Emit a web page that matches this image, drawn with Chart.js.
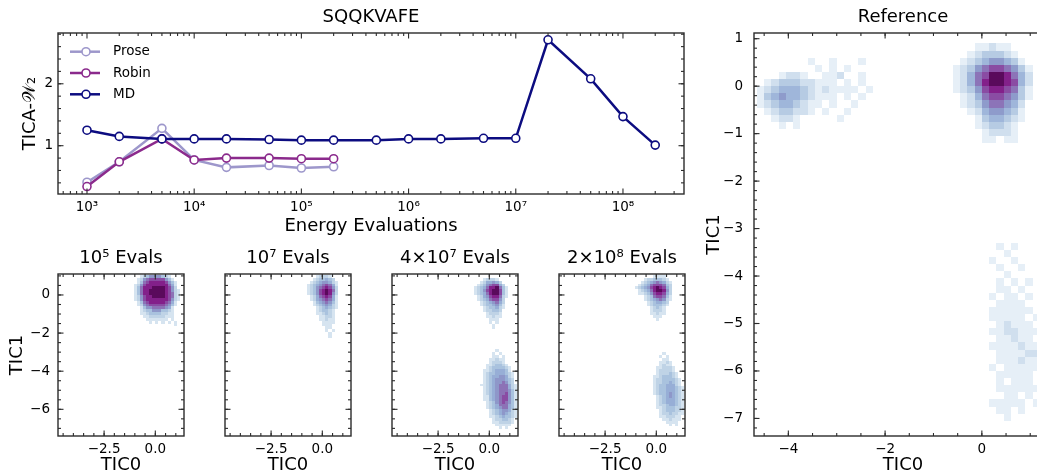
<!DOCTYPE html>
<html>
<head>
<meta charset="utf-8">
<script src="https://cdn.jsdelivr.net/npm/chart.js@4.4.1/dist/chart.umd.min.js"></script>
<style>
  html, body { margin: 0; padding: 0; background: #fff; overflow: hidden; }
  body { width: 1037px; height: 476px; position: relative; }
  .panel { position: absolute; }
</style>
</head>
<body>
<div class="panel" style="left:0;top:0;width:700px;height:240px"><canvas id="w2"></canvas></div>
<div class="panel" style="left:0;top:240px;width:186px;height:236px"><canvas id="p1"></canvas></div>
<div class="panel" style="left:223px;top:240px;width:130px;height:236px"><canvas id="p2"></canvas></div>
<div class="panel" style="left:390px;top:240px;width:130px;height:236px"><canvas id="p3"></canvas></div>
<div class="panel" style="left:557px;top:240px;width:130px;height:236px"><canvas id="p4"></canvas></div>
<div class="panel" style="left:700px;top:0;width:360px;height:476px"><canvas id="ref"></canvas></div>
<script>
// ---- line chart data (TICA-W2 vs energy evaluations) ----
const evalsMD = [1e3, 2e3, 5e3, 1e4, 2e4, 5e4, 1e5, 2e5, 5e5, 1e6, 2e6, 5e6, 1e7, 2e7, 5e7, 1e8, 2e8];
const mdW2 = [1.25, 1.15, 1.11, 1.11, 1.11, 1.10, 1.09, 1.09, 1.09, 1.11, 1.11, 1.12, 1.12, 2.71, 2.08, 1.47, 1.01];
const evalsModels = [1e3, 2e3, 5e3, 1e4, 2e4, 5e4, 1e5, 2e5];
const proseW2 = [0.41, 0.74, 1.28, 0.77, 0.65, 0.68, 0.64, 0.66];
const robinW2 = [0.34, 0.74, 1.11, 0.77, 0.80, 0.80, 0.79, 0.79];
const seriesNames = ['Prose', 'Robin', 'MD'];
const seriesColors = ['#9d97cb', '#8b2a8c', '#0c0c80'];
const logTicks = [1e3, 1e4, 1e5, 1e6, 1e7, 1e8];
const w2Ticks = [1, 2];

// ---- histogram panels ----
const panelTitles = ['10⁵ Evals', '10⁷ Evals', '4×10⁷ Evals', '2×10⁸ Evals'];
const ticXTicks = [-2.5, 0];
const ticYTicks = [-6, -4, -2, 0];
const refXTicks = [-4, -2, 0];
const refYTicks = [-7, -6, -5, -4, -3, -2, -1, 0, 1];

// density levels 0-9 per 0.15 x 0.15 cell, rows from top edge y0 downwards, columns from x0
const cellStep = 0.15;
const evals1e5Main = { x0: -1.05, y0: 1.05, rows: [
  '0012355553210000',
  '0125677777531000',
  '0136788888753100',
  '1257888888864100',
  '1368889999875200',
  '1368899999875210',
  '1368899999876210',
  '1257889999876210',
  '1257888888875210',
  '0136788888764100',
  '0125677777653100',
  '0013556666541000',
  '0012335553321000',
  '0011233332211000',
  '0001122222111000',
  '0000111111101000',
  '0000010101010100',
  '0000000000000100'] };
const evals1e7Main = { x0: -1.2, y0: 1.05, rows: [
  '000000122210000',
  '000001233432000',
  '000012345542100',
  '000123456764100',
  '000123567875200',
  '000123578986200',
  '000123578985200',
  '000012467874100',
  '000012456764100',
  '000001345653100',
  '000001234542100',
  '000000123432100',
  '000000123321000',
  '000000112321000',
  '000000011221000',
  '000000011211000',
  '000000001111000',
  '000000001110000',
  '000000000110000',
  '000000000101000',
  '000000000010000',
  '000000000010000'] };
const evals4e7Main = { x0: -0.9, y0: 0.9, rows: [
  '000012221000',
  '000124454200',
  '001235677420',
  '012346889631',
  '012357899731',
  '012346899731',
  '001245788621',
  '001234677520',
  '000123456420',
  '000123345310',
  '000012334210',
  '000012233200',
  '000001222100',
  '000001121100',
  '000000111000',
  '000000101000',
  '000000010000',
  '000000010000'] };
const evals4e7Low = { x0: -0.45, y0: -2.85, rows: [
  '000001000000',
  '000010100000',
  '000011010000',
  '000112110000',
  '000122210000',
  '001123321000',
  '001233332100',
  '011234443100',
  '012334443210',
  '012344554210',
  '012345554320',
  '012345565320',
  '112345666421',
  '012345666421',
  '012345666531',
  '012345667531',
  '011345677531',
  '011345677531',
  '001235676531',
  '001234666431',
  '001234566431',
  '000123455421',
  '000123454321',
  '000112343321',
  '000012233210',
  '000011222210',
  '000001111100',
  '000000101000'] };
const evals2e8Main = { x0: -1.05, y0: 1.05, rows: [
  '00000011110000',
  '00012233321000',
  '00123456542100',
  '01234677763200',
  '12345789874200',
  '01234689985200',
  '01123578874200',
  '00012367763100',
  '00012345652100',
  '00001234432000',
  '00001233321000',
  '00000123210000',
  '00000122210000',
  '00000112110000',
  '00000011100000',
  '00000001000000'] };
const evals2e8Low = { x0: -0.15, y0: -3.0, rows: [
  '0001000000',
  '0010100000',
  '0001100000',
  '0011210000',
  '0012110000',
  '0112221000',
  '0122221000',
  '0122232100',
  '1123332100',
  '1223333210',
  '1223343210',
  '1233444210',
  '1233444321',
  '1233444321',
  '1233454321',
  '0123454321',
  '0123444321',
  '0123444321',
  '0122344321',
  '0112333221',
  '0012333221',
  '0012232211',
  '0011222110',
  '0001121110',
  '0000111100',
  '0000010100'] };
const refMain = { x0: -0.6, y0: 0.9, rows: [
  '000112110000',
  '001233321000',
  '012345543100',
  '123567765310',
  '124679986420',
  '124689987420',
  '123578876310',
  '012467765310',
  '012356654200',
  '001245543100',
  '000134432100',
  '000123321000',
  '000012221000',
  '000011011000'] };
const refLeft = { x0: -4.65, y0: 0.6, rows: [
  '00000001001000100',
  '00000000101010000',
  '00012210011200100',
  '01233322111010100',
  '12344432121111010',
  '13454432111010100',
  '12344321101001000',
  '01233221010010000',
  '00122100000100000',
  '00010100000000000'] };
const refLow = { x0: -0.3, y0: -3.3, rows: [
  '0000101000',
  '0000010000',
  '0001001000',
  '0000100100',
  '0000010000',
  '0000101010',
  '0000110100',
  '0001011010',
  '0000111100',
  '0001111110',
  '0001111101',
  '0000121110',
  '0001122111',
  '0000112110',
  '0001111211',
  '0000111122',
  '0000111211',
  '0001011111',
  '0000111110',
  '0000101110',
  '0000111111',
  '0000011010',
  '0001111101',
  '0000110100',
  '0000010000'] };

// each histogram panel has its own colour normalisation
const refColors = [null, '#e6eff7', '#d0dfee', '#b6cbe3', '#9fb6da', '#8e9bcb', '#8c74b8', '#8a4ca3', '#83208a', '#5a0a5c'];
const evalColors = [null, '#d6e4f0', '#bfd3e6', '#a9c2de', '#97aed6', '#8e97c9', '#8c72b6', '#8a4ca3', '#83208a', '#5a0a5c'];

const tickFont = { family: 'DejaVu Sans', size: 13.5 };
const labelFont = { family: 'DejaVu Sans', size: 18, weight: 'normal' };
const supDigits = { 3: '³', 4: '⁴', 5: '⁵', 6: '⁶', 7: '⁷', 8: '⁸' };
const fmtNum = (d) => (v) => (v < 0 ? '−' : '') + Math.abs(v).toFixed(d);

function multiples(min, max, step) {
  const out = [];
  for (let v = Math.ceil(min / step) * step; v <= max + 1e-9; v += step) out.push(+v.toFixed(6));
  return out;
}

function logMinor(min, max) {
  const out = [];
  for (let e = Math.floor(Math.log10(min)); e <= Math.ceil(Math.log10(max)); e++) {
    for (let k = 2; k <= 9; k++) {
      const v = k * Math.pow(10, e);
      if (v >= min && v <= max) out.push(v);
    }
  }
  return out;
}

function axis(o) {
  return {
    type: o.type || 'linear',
    position: o.position,
    min: o.min,
    max: o.max,
    bounds: 'data',
    grid: { display: false, drawTicks: false },
    border: { display: false },
    afterBuildTicks: (s) => { s.ticks = o.ticks.map((v) => ({ value: v })); },
    afterFit: (s) => { if (o.position === 'left') s.width = o.size; else s.height = o.size; },
    ticks: {
      display: o.labels !== false,
      font: tickFont,
      color: '#000',
      padding: o.pad || 5,
      autoSkip: false,
      maxRotation: 0,
      callback: o.fmt,
    },
    title: o.title
      ? { display: true, text: o.title, font: labelFont, color: '#000', padding: o.titlePad }
      : { display: false },
  };
}

// inward major/minor ticks on every side plus the axes frame
function framePlugin(xMinor, yMinor) {
  return {
    id: 'frame',
    afterDraw(chart) {
      const { ctx, chartArea: a, scales: { x, y } } = chart;
      ctx.save();
      ctx.strokeStyle = '#2b2b2b';
      ctx.lineWidth = 1.1;
      const seg = (x1, y1, x2, y2) => { ctx.beginPath(); ctx.moveTo(x1, y1); ctx.lineTo(x2, y2); ctx.stroke(); };
      const xMarks = (vals, len) => vals.forEach((v) => {
        const px = x.getPixelForValue(v);
        if (px < a.left || px > a.right) return;
        seg(px, a.bottom, px, a.bottom - len);
        seg(px, a.top, px, a.top + len);
      });
      const yMarks = (vals, len) => vals.forEach((v) => {
        const py = y.getPixelForValue(v);
        if (py < a.top || py > a.bottom) return;
        seg(a.left, py, a.left + len, py);
        seg(a.right, py, a.right - len, py);
      });
      xMarks(xMinor, 3);
      yMarks(yMinor, 3);
      xMarks(x.ticks.map((t) => t.value), 5.5);
      yMarks(y.ticks.map((t) => t.value), 5.5);
      ctx.lineWidth = 1.4;
      ctx.strokeRect(a.left, a.top, a.right - a.left, a.bottom - a.top);
      ctx.restore();
    },
  };
}

// 2D histogram cells, placed through the chart scales
function heatPlugin(grids, palette) {
  return {
    id: 'heat',
    beforeDatasetsDraw(chart) {
      const { ctx, chartArea: a, scales: { x, y } } = chart;
      ctx.save();
      ctx.beginPath();
      ctx.rect(a.left, a.top, a.right - a.left, a.bottom - a.top);
      ctx.clip();
      grids.forEach((g) => {
        g.rows.forEach((row, r) => {
          for (let c = 0; c < row.length; c++) {
            const lvl = +row[c];
            if (!lvl) continue;
            const xa = Math.round(x.getPixelForValue(g.x0 + c * cellStep));
            const xb = Math.round(x.getPixelForValue(g.x0 + (c + 1) * cellStep));
            const ya = Math.round(y.getPixelForValue(g.y0 - r * cellStep));
            const yb = Math.round(y.getPixelForValue(g.y0 - (r + 1) * cellStep));
            ctx.fillStyle = palette[lvl];
            ctx.fillRect(xa, ya, xb - xa, yb - ya);
          }
        });
      });
      ctx.restore();
    },
  };
}

// legend drawn inside the upper left of the plot
const innerLegend = {
  id: 'innerLegend',
  afterDatasetsDraw(chart) {
    const { ctx, chartArea: a } = chart;
    ctx.save();
    chart.data.datasets.forEach((ds, i) => {
      const y = a.top + 18.7 + i * 21.3;
      ctx.strokeStyle = ds.borderColor;
      ctx.lineWidth = 2.5;
      ctx.beginPath();
      ctx.moveTo(a.left + 12, y);
      ctx.lineTo(a.left + 42, y);
      ctx.stroke();
      ctx.beginPath();
      ctx.arc(a.left + 28, y, 4, 0, Math.PI * 2);
      ctx.fillStyle = '#fff';
      ctx.fill();
      ctx.lineWidth = 1.6;
      ctx.stroke();
      ctx.fillStyle = '#000';
      ctx.font = '13.5px "DejaVu Sans"';
      ctx.textBaseline = 'middle';
      ctx.fillText(ds.label, a.left + 55, y);
    });
    ctx.restore();
  },
};

Chart.defaults.animation = false;
Chart.defaults.font.family = 'DejaVu Sans';

const w2XMin = 536.5, w2XMax = 3.71e8, w2YMin = 0.22, w2YMax = 2.82;

const lineSeries = [
  evalsModels.map((x, i) => ({ x, y: proseW2[i] })),
  evalsModels.map((x, i) => ({ x, y: robinW2[i] })),
  evalsMD.map((x, i) => ({ x, y: mdW2[i] })),
];

new Chart(document.getElementById('w2'), {
  type: 'line',
  data: {
    datasets: lineSeries.map((data, i) => ({
      label: seriesNames[i],
      data,
      borderColor: seriesColors[i],
      pointBorderColor: seriesColors[i],
      pointBackgroundColor: '#fff',
      borderWidth: 2.5,
      pointRadius: 4,
      pointBorderWidth: 1.6,
      tension: 0,
      order: 3 - i,
    })),
  },
  options: {
    responsive: true,
    maintainAspectRatio: false,
    layout: { padding: { left: 0, right: 16, top: 0, bottom: 0 } },
    plugins: {
      legend: { display: false },
      tooltip: { enabled: false },
      title: { display: true, text: 'SQQKVAFE', font: labelFont, color: '#000', padding: { top: 7, bottom: 4.4 }, fullSize: false },
    },
    scales: {
      x: axis({ type: 'logarithmic', position: 'bottom', min: w2XMin, max: w2XMax, ticks: logTicks, size: 46, pad: 5,
        fmt: (v) => '10' + supDigits[Math.round(Math.log10(v))], title: 'Energy Evaluations', titlePad: { bottom: 3.2 } }),
      y: axis({ position: 'left', min: w2YMin, max: w2YMax, ticks: w2Ticks, size: 58, pad: 5,
        fmt: (v) => String(v), title: 'TICA-𝒲₂', titlePad: { top: 19.7 } }),
    },
  },
  plugins: [framePlugin(logMinor(w2XMin, w2XMax), multiples(0.4, 2.8, 0.2)), innerLegend],
});

const ticXMin = -4.75, ticXMax = 1.4, ticYMin = -7.4, ticYMax = 1.1;
const panelGrids = [[evals1e5Main], [evals1e7Main], [evals4e7Main, evals4e7Low], [evals2e8Main, evals2e8Low]];

['p1', 'p2', 'p3', 'p4'].forEach((id, i) => {
  const first = i === 0;
  new Chart(document.getElementById(id), {
    type: 'scatter',
    data: { datasets: [] },
    options: {
      responsive: true,
      maintainAspectRatio: false,
      layout: { padding: { left: 0, right: 2, top: 0, bottom: 0 } },
      plugins: {
        legend: { display: false },
        tooltip: { enabled: false },
        title: { display: true, text: panelTitles[i], font: labelFont, color: '#000', padding: { top: 8, bottom: 4.4 }, fullSize: false },
      },
      scales: {
        x: axis({ position: 'bottom', min: ticXMin, max: ticXMax, ticks: ticXTicks, size: 40, pad: 5,
          fmt: fmtNum(1), title: 'TIC0', titlePad: { bottom: 0 } }),
        y: axis({ position: 'left', min: ticYMin, max: ticYMax, ticks: ticYTicks, size: first ? 58 : 2, pad: 8,
          labels: first, fmt: fmtNum(0), title: first ? 'TIC1' : null, titlePad: { top: 6.7 } }),
      },
    },
    plugins: [heatPlugin(panelGrids[i], evalColors), framePlugin(multiples(ticXMin, ticXMax, 0.5), multiples(ticYMin, ticYMax, 0.5))],
  });
});

const refXMin = -4.71, refXMax = 1.45, refYMin = -7.37, refYMax = 1.12;

new Chart(document.getElementById('ref'), {
  type: 'scatter',
  data: { datasets: [] },
  options: {
    responsive: true,
    maintainAspectRatio: false,
    layout: { padding: { left: 0, right: 8, top: 0, bottom: 0 } },
    plugins: {
      legend: { display: false },
      tooltip: { enabled: false },
      title: { display: true, text: 'Reference', font: labelFont, color: '#000', padding: { top: 7, bottom: 4.4 }, fullSize: false },
    },
    scales: {
      x: axis({ position: 'bottom', min: refXMin, max: refXMax, ticks: refXTicks, size: 40, pad: 5,
        fmt: fmtNum(0), title: 'TIC0', titlePad: { bottom: 0 } }),
      y: axis({ position: 'left', min: refYMin, max: refYMax, ticks: refYTicks, size: 54, pad: 11,
        fmt: fmtNum(0), title: 'TIC1', titlePad: { top: 3.2 } }),
    },
  },
  plugins: [heatPlugin([refMain, refLeft, refLow], refColors), framePlugin(multiples(refXMin, refXMax, 0.5), multiples(refYMin, refYMax, 0.2))],
});
</script>
</body>
</html>
